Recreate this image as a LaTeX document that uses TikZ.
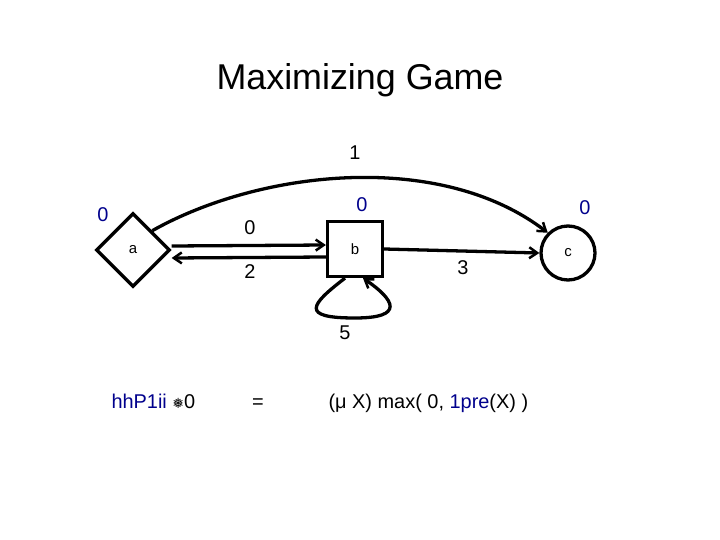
\documentclass[tikz,border=0pt]{standalone}
\usepackage{fontspec}
\setmainfont{Liberation Sans}
\newfontfamily\symf{DejaVu Sans}
\usetikzlibrary{shapes.geometric,arrows.meta}
\definecolor{nb}{RGB}{0,0,140}
\begin{document}
\begin{tikzpicture}[x=1bp,y=-1bp,
  st/.style={draw,line width=3.3pt,font=\fontsize{15}{17}\selectfont},
  e/.style={line width=3.3pt,-{Straight Barb[length=8pt,width=11pt,line width=2.5pt]}},
  lb/.style={font=\fontsize{20}{22}\selectfont},
  bl/.style={lb,text=nb}]
\useasboundingbox (0,0) rectangle (720,540);
\node[font=\fontsize{36}{40}\selectfont] (t) at (360,80) {Maximizing Game};
\node[st,diamond,minimum width=74bp,minimum height=74bp,inner sep=0pt] (a) at (133,250) {a};
\node[st,rectangle,minimum size=55bp] (b) at (355,249) {b};
\node[st,circle,minimum size=54bp,inner sep=0pt] (c) at (568,253) {c};
\node[bl] (la) at (103,215) {0};
\node[bl] (lb0) at (362,205) {0};
\node[bl] (lc) at (585,208) {0};
\draw[e] ([yshift=4bp]a.east) -- ([yshift=4bp]b.west);
\draw[e] ([yshift=-8bp]b.west) -- ([yshift=-8bp]a.east);
\node[lb] (l0) at (250,228) {0};
\node[lb] (l2) at (250,272) {2};
\draw[e] (b.east) -- (c.west);
\node[lb] (l3) at (463,268) {3};
\draw[e] (a.north east) .. controls (260,170) and (440,150) .. (c.north west);
\node[lb] (l1) at (355,153) {1};
\draw[e] ([xshift=-10bp]b.south) .. controls (310,305) and (300,318) .. (355,318) .. controls (405,318) and (395,300) .. ([xshift=8bp]b.south);
\node[lb] (l5) at (345,333) {5};
\node[lb,anchor=base west] (f1) at (108,408) {\textcolor{nb}{hhP1ii} {\symf\fontsize{14}{14}\selectfont ❅}0};
\node[lb,anchor=base] (f2) at (258,408) {=};
\node[lb,anchor=base west] (f3) at (325,408) {(μ X) max( 0, \textcolor{nb}{1pre}(X) )};
\end{tikzpicture}
\end{document}
